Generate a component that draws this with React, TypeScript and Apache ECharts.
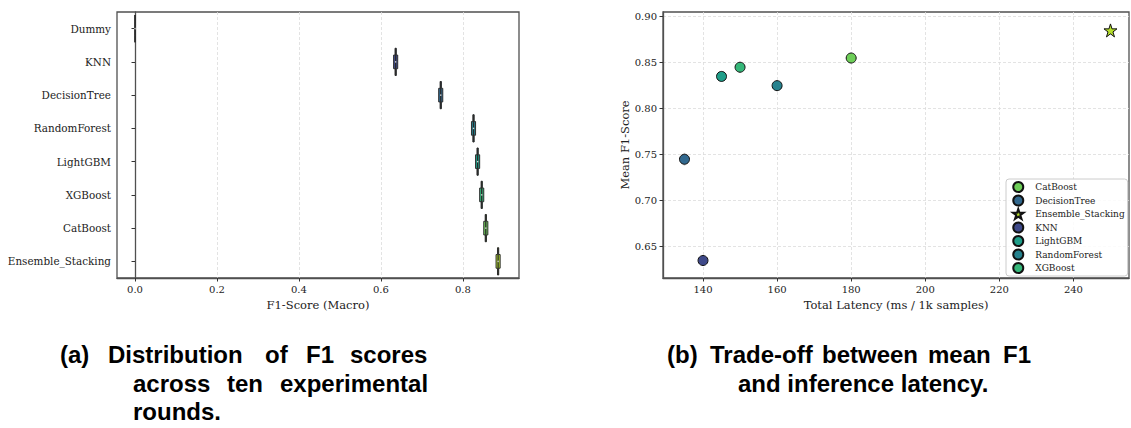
import React, { useEffect, useRef } from "react";
import * as echarts from "echarts";

// ---------- Panel (a): violin distributions of F1 ----------
const models = [
  "Dummy",
  "KNN",
  "DecisionTree",
  "RandomForest",
  "LightGBM",
  "XGBoost",
  "CatBoost",
  "Ensemble_Stacking",
];
const f1Min = [0, 0.631, 0.741, 0.821, 0.831, 0.841, 0.851, 0.881];
const f1Q1 = [0, 0.6345, 0.7445, 0.8245, 0.8345, 0.8445, 0.8545, 0.8845];
const f1Median = [0, 0.636, 0.746, 0.826, 0.836, 0.846, 0.856, 0.886];
const f1Q3 = [0, 0.6375, 0.7475, 0.8275, 0.8375, 0.8475, 0.8575, 0.8875];
const f1Max = [0, 0.641, 0.751, 0.831, 0.841, 0.851, 0.861, 0.891];
const violinColors = [
  "#440154",
  "#3e4989",
  "#31688e",
  "#26828e",
  "#1f9e89",
  "#35b779",
  "#6ece58",
  "#b5de2b",
];
const xTicksA = [0, 0.2, 0.4, 0.6, 0.8];

// ---------- Panel (b): mean F1 vs latency ----------
const scatterModels = [
  "CatBoost",
  "DecisionTree",
  "Ensemble_Stacking",
  "KNN",
  "LightGBM",
  "RandomForest",
  "XGBoost",
];
const latency = [180, 135, 250, 140, 145, 160, 150];
const meanF1 = [0.855, 0.745, 0.885, 0.635, 0.835, 0.825, 0.845];
const f1Std = [0.006, 0.007, 0.005, 0.006, 0.006, 0.006, 0.006];
const scatterColors = [
  "#6ece58",
  "#31688e",
  "#b5de2b",
  "#3e4989",
  "#1f9e89",
  "#26828e",
  "#35b779",
];
const latencyTicks = [140, 160, 180, 200, 220, 240];
const f1Ticks = [0.65, 0.7, 0.75, 0.8, 0.85, 0.9];

const STAR =
  "path://M100,0L122.45,69.1L195.1,69.1L136.3,111.8L158.8,180.9L100,138.2L41.2,180.9L63.7,111.8L4.9,69.1L77.55,69.1Z";

const SERIF = "DejaVu Serif";
const CAP_FONT = 'bold 24px "Liberation Sans", Arial, sans-serif';

const captionWords: [string, number, number][] = [
  ["(a)", 60, 354],
  ["Distribution", 108, 354],
  ["of", 265, 354],
  ["F1", 306, 354],
  ["scores", 350, 354],
  ["across", 133, 383],
  ["ten", 227, 383],
  ["experimental", 280, 383],
  ["rounds.", 133, 411.5],
  ["(b)", 667, 354],
  ["Trade-off", 710, 354],
  ["between", 822, 354],
  ["mean", 928, 354],
  ["F1", 1003, 354],
  ["and inference latency.", 738, 383],
];

export default function App() {
  const ref = useRef<HTMLDivElement>(null);

  useEffect(() => {
    if (!ref.current) return;
    const chart = echarts.init(ref.current, undefined, { renderer: "svg" });

    const frame = "#505050";
    const tickStyle = { show: true, length: 3.5, lineStyle: { color: "#333", width: 1 } };
    const labelStyle = { color: "#222", fontFamily: SERIF, fontSize: 10 };
    const nameStyle = { color: "#222", fontFamily: SERIF, fontSize: 11.5 };
    const gridLine = { show: true, lineStyle: { color: "#dcdcdc", width: 0.8, type: [3, 2] as any } };

    const violinData = models.map((_, i) => [i, f1Min[i], f1Q1[i], f1Median[i], f1Q3[i], f1Max[i]]);
    const profile = [0.5, 0.5, 1, 0.5, 0.5];

    const series: any[] = [
      {
        type: "custom",
        xAxisIndex: 0,
        yAxisIndex: 0,
        data: violinData,
        encode: { x: [1, 2, 3, 4, 5], y: 0 },
        renderItem: (params: any, api: any) => {
          const cat = api.value(0);
          const vals = [1, 2, 3, 4, 5].map((k) => api.value(k));
          const band = api.size([0, 1])[1];
          const half = band * 0.41;
          const pts = vals.map((v) => api.coord([v, cat]));
          const top = pts.map((p, k) => [p[0], p[1] - half * profile[k]]);
          const bottom = pts.map((p, k) => [p[0], p[1] + half * profile[k]]).reverse();
          const poly = [
            top[0],
            top[1],
            [pts[1][0], pts[1][1] - half],
            [pts[3][0], pts[3][1] - half],
            top[3],
            top[4],
            bottom[0],
            bottom[1],
            [pts[3][0], pts[3][1] + half],
            [pts[1][0], pts[1][1] + half],
            bottom[3],
            bottom[4],
          ];
          const c = pts[2];
          return {
            type: "group",
            children: [
              {
                type: "polygon",
                shape: { points: poly },
                style: {
                  fill: violinColors[params.dataIndex],
                  stroke: "#2e2e2e",
                  lineWidth: 1,
                },
              },
              {
                type: "line",
                shape: { x1: c[0], y1: c[1] - half, x2: c[0], y2: c[1] + half },
                style: { stroke: "#2a2a2a", lineWidth: 1.3 },
              },
              {
                type: "circle",
                shape: { cx: c[0], cy: c[1], r: 0.7 },
                style: { fill: "#d8d8d8" },
              },
            ],
          };
        },
      },
      {
        type: "custom",
        xAxisIndex: 1,
        yAxisIndex: 1,
        z: 1,
        data: scatterModels.map((_, i) => [latency[i], meanF1[i] - f1Std[i], meanF1[i] + f1Std[i]]),
        encode: { x: 0, y: [1, 2] },
        renderItem: (params: any, api: any) => {
          const a = api.coord([api.value(0), api.value(1)]);
          const b = api.coord([api.value(0), api.value(2)]);
          return {
            type: "line",
            shape: { x1: a[0], y1: a[1], x2: b[0], y2: b[1] },
            style: { stroke: "#cfcfcf", lineWidth: 1.6 },
          };
        },
      },
    ];

    scatterModels.forEach((m, i) => {
      const isStar = m === "Ensemble_Stacking";
      series.push({
        type: "scatter",
        name: m,
        xAxisIndex: 1,
        yAxisIndex: 1,
        z: 3,
        symbol: isStar ? STAR : "circle",
        symbolSize: isStar ? 13 : 10,
        itemStyle: {
          color: scatterColors[i],
          borderColor: "#111111",
          borderWidth: 1,
          opacity: 1,
        },
        data: [[latency[i], meanF1[i]]],
      });
    });

    chart.setOption({
      animation: false,
      backgroundColor: "#ffffff",
      grid: [
        {
          left: 117,
          top: 12,
          width: 402,
          height: 266,
          show: true,
          borderColor: frame,
          borderWidth: 1.3,
          backgroundColor: "transparent",
        },
        {
          left: 663,
          top: 12,
          width: 466,
          height: 266,
          show: true,
          borderColor: frame,
          borderWidth: 1.3,
          backgroundColor: "transparent",
        },
      ],
      xAxis: [
        {
          type: "value",
          gridIndex: 0,
          min: -0.044,
          max: 0.937,
          axisLine: { show: true, lineStyle: { color: frame, width: 1.3 } },
          axisTick: { ...tickStyle, customValues: xTicksA },
          axisLabel: {
            ...labelStyle,
            margin: 6,
            customValues: xTicksA,
            formatter: (v: number) => v.toFixed(1),
          },
          splitLine: gridLine,
          name: "F1-Score (Macro)",
          nameLocation: "middle",
          nameGap: 17,
          nameTextStyle: nameStyle,
        },
        {
          type: "value",
          gridIndex: 1,
          min: 129.2,
          max: 255,
          axisLine: { show: true, lineStyle: { color: frame, width: 1.3 } },
          axisTick: { ...tickStyle, customValues: latencyTicks },
          axisLabel: {
            ...labelStyle,
            margin: 6,
            customValues: latencyTicks,
            formatter: (v: number) => String(v),
          },
          splitLine: gridLine,
          name: "Total Latency (ms / 1k samples)",
          nameLocation: "middle",
          nameGap: 17,
          nameTextStyle: nameStyle,
        },
      ],
      yAxis: [
        {
          type: "category",
          gridIndex: 0,
          data: models,
          inverse: true,
          axisLine: { show: true, lineStyle: { color: frame, width: 1.3 } },
          axisTick: { ...tickStyle, alignWithLabel: true },
          axisLabel: { ...labelStyle, fontSize: 10.4, margin: 6 },
          splitLine: { show: false },
        },
        {
          type: "value",
          gridIndex: 1,
          min: 0.616,
          max: 0.905,
          axisLine: { show: true, lineStyle: { color: frame, width: 1.3 } },
          axisTick: { ...tickStyle, customValues: f1Ticks },
          axisLabel: {
            ...labelStyle,
            margin: 6,
            customValues: f1Ticks,
            formatter: (v: number) => v.toFixed(2),
          },
          splitLine: gridLine,
          name: "Mean F1-Score",
          nameLocation: "middle",
          nameRotate: 90,
          nameGap: 30,
          nameTextStyle: nameStyle,
        },
      ],
      legend: {
        data: scatterModels,
        orient: "vertical",
        left: 1006,
        top: 179,
        padding: [2, 3, 2, 6],
        itemWidth: 24,
        itemHeight: 10,
        itemGap: 1.5,
        backgroundColor: "rgba(255,255,255,0.85)",
        borderColor: "#cccccc",
        borderWidth: 1,
        borderRadius: 3,
        textStyle: { color: "#222", fontFamily: SERIF, fontSize: 9 },
        selectedMode: false,
      },
      graphic: captionWords.map(([t, x, y]) => ({
        type: "text",
        x,
        y,
        style: {
          text: t,
          font: CAP_FONT,
          fill: "#000000",
          verticalAlign: "middle",
          align: "left",
        },
      })),
      series,
    });

    return () => chart.dispose();
  }, []);

  return (
    <div
      ref={ref}
      style={{ position: "absolute", left: 0, top: 0, width: 1131, height: 428 }}
    />
  );
}
